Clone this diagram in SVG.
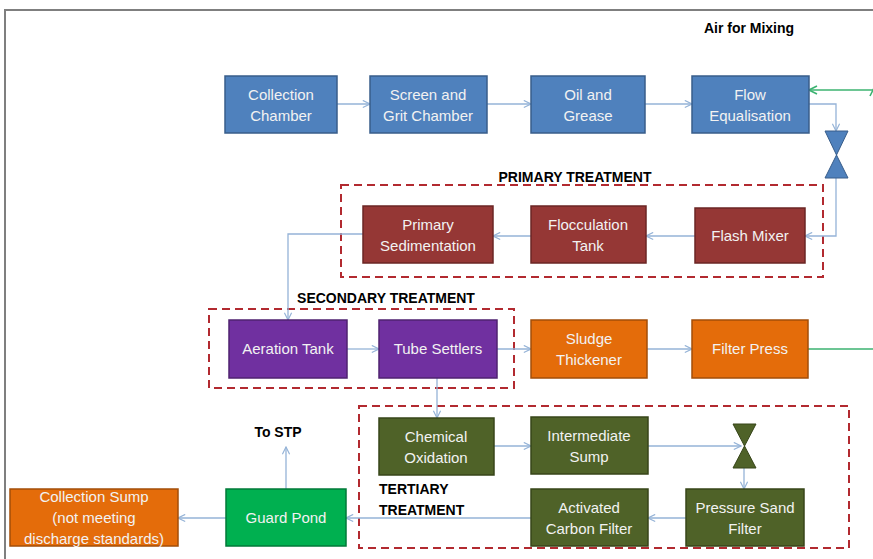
<svg xmlns="http://www.w3.org/2000/svg" width="873" height="559" viewBox="0 0 873 559">
<defs>
<style>
.n{stroke-width:1.5}
.blue{fill:#4F81BD;stroke:#385D8A}
.red{fill:#953735;stroke:#6B2624}
.pur{fill:#7030A0;stroke:#4F2270}
.org{fill:#E46C0A;stroke:#A34E08}
.olv{fill:#4F6228;stroke:#374519}
.grn{fill:#00B050;stroke:#007A38}
.t{font-family:"Liberation Sans",Arial,sans-serif;font-size:15px;fill:#F2F2F2;text-anchor:middle}
.lb{font-family:"Liberation Sans",Arial,sans-serif;font-size:14px;font-weight:bold;fill:#000}
.dash{fill:none;stroke:#B22A30;stroke-width:2;stroke-dasharray:8,5}
.c{fill:none;stroke:#95B3D7;stroke-width:1.3}
.g{fill:none;stroke:#3CB371;stroke-width:1.6}
</style>
<marker id="a" viewBox="0 0 10 10" refX="9" refY="5" markerWidth="9" markerHeight="9" markerUnits="userSpaceOnUse" orient="auto">
<path d="M1,1 L9,5 L1,9" fill="none" stroke="#95B3D7" stroke-width="1.3"/>
</marker>
<marker id="ag" viewBox="0 0 10 10" refX="9" refY="5" markerWidth="10" markerHeight="10" markerUnits="userSpaceOnUse" orient="auto">
<path d="M1,1 L9,5 L1,9" fill="none" stroke="#3CB371" stroke-width="1.6"/>
</marker>
</defs>
<rect width="873" height="559" fill="#fff"/>
<path d="M5,559 V10 H873" fill="none" stroke="#7F7F7F" stroke-width="2"/>

<g id="labels">
<text class="lb" x="749" y="33" text-anchor="middle">Air for Mixing</text>
<text class="lb" x="575" y="182" text-anchor="middle">PRIMARY TREATMENT</text>
<text class="lb" x="386" y="303" text-anchor="middle">SECONDARY TREATMENT</text>
<text class="lb" x="379" y="494">TERTIARY</text>
<text class="lb" x="379" y="515">TREATMENT</text>
<text class="lb" x="278" y="437" text-anchor="middle">To STP</text>
</g>

<g id="groups">
<rect id="primary-box" class="dash" x="341" y="185" width="482" height="92"/>
<rect id="secondary-box" class="dash" x="209" y="309" width="305" height="79"/>
<rect id="tertiary-box" class="dash" x="359" y="406" width="490" height="142"/>
</g>

<g id="connectors">
<path class="c" d="M337,104 H370" marker-end="url(#a)"/>
<path class="c" d="M487,104 H531" marker-end="url(#a)"/>
<path class="c" d="M645,104 H692" marker-end="url(#a)"/>
<path class="c" d="M809,104 H836 V131" marker-end="url(#a)"/>
<path class="c" d="M836,178 V236 H805" marker-end="url(#a)"/>
<path class="c" d="M695,236 H646" marker-end="url(#a)"/>
<path class="c" d="M531,236 H493" marker-end="url(#a)"/>
<path class="c" d="M363,234 H288 V320" marker-end="url(#a)"/>
<path class="c" d="M347,349 H379" marker-end="url(#a)"/>
<path class="c" d="M497,349 H531" marker-end="url(#a)"/>
<path class="c" d="M647,349 H692" marker-end="url(#a)"/>
<path class="c" d="M437,378 V418" marker-end="url(#a)"/>
<path class="c" d="M494,446 H531" marker-end="url(#a)"/>
<path class="c" d="M648,446 H741" marker-end="url(#a)"/>
<path class="c" d="M744,468 V489" marker-end="url(#a)"/>
<path class="c" d="M686,518 H648" marker-end="url(#a)"/>
<path class="c" d="M531,518 H346" marker-end="url(#a)"/>
<path class="c" d="M286,489 V447" marker-end="url(#a)"/>
<path class="c" d="M226,518 H178" marker-end="url(#a)"/>
<path class="g" d="M808,349 H874 V88" marker-end="url(#ag)"/>
<path class="g" d="M874,90 H809" marker-end="url(#ag)"/>
</g>

<g id="collection-chamber"><rect class="n blue" x="225" y="76" width="112" height="57"/><text class="t" x="281" y="100">Collection</text><text class="t" x="281" y="121">Chamber</text></g>
<g id="screen-grit"><rect class="n blue" x="370" y="76" width="117" height="57"/><text class="t" x="428" y="100">Screen and</text><text class="t" x="428" y="121">Grit Chamber</text></g>
<g id="oil-grease"><rect class="n blue" x="531" y="76" width="114" height="57"/><text class="t" x="588" y="100">Oil and</text><text class="t" x="588" y="121">Grease</text></g>
<g id="flow-equalisation"><rect class="n blue" x="692" y="76" width="117" height="57"/><text class="t" x="750" y="100">Flow</text><text class="t" x="750" y="121">Equalisation</text></g>
<g id="valve-1"><path d="M825,131 H848 L836.5,155 Z M825,178 H848 L836.5,155 Z" fill="#4F81BD" stroke="#385D8A" stroke-width="1"/></g>

<g id="primary-sedimentation"><rect class="n red" x="363" y="206" width="130" height="57"/><text class="t" x="428" y="230">Primary</text><text class="t" x="428" y="251">Sedimentation</text></g>
<g id="flocculation-tank"><rect class="n red" x="531" y="206" width="115" height="57"/><text class="t" x="588" y="230">Flocculation</text><text class="t" x="588" y="251">Tank</text></g>
<g id="flash-mixer"><rect class="n red" x="695" y="208" width="110" height="55"/><text class="t" x="750" y="241">Flash Mixer</text></g>

<g id="aeration-tank"><rect class="n pur" x="229" y="320" width="118" height="58"/><text class="t" x="288" y="354">Aeration Tank</text></g>
<g id="tube-settlers"><rect class="n pur" x="379" y="320" width="118" height="58"/><text class="t" x="438" y="354">Tube Settlers</text></g>
<g id="sludge-thickener"><rect class="n org" x="531" y="320" width="116" height="58"/><text class="t" x="589" y="344">Sludge</text><text class="t" x="589" y="365">Thickener</text></g>
<g id="filter-press"><rect class="n org" x="692" y="320" width="116" height="58"/><text class="t" x="750" y="354">Filter Press</text></g>

<g id="chemical-oxidation"><rect class="n olv" x="379" y="418" width="115" height="57"/><text class="t" x="436" y="442">Chemical</text><text class="t" x="436" y="463">Oxidation</text></g>
<g id="intermediate-sump"><rect class="n olv" x="531" y="417" width="117" height="57"/><text class="t" x="589" y="441">Intermediate</text><text class="t" x="589" y="462">Sump</text></g>
<g id="valve-2"><path d="M733,424 H756 L744.5,446 Z M733,468 H756 L744.5,446 Z" fill="#4F6228" stroke="#374519" stroke-width="1"/></g>
<g id="pressure-sand-filter"><rect class="n olv" x="686" y="489" width="118" height="57"/><text class="t" x="745" y="513">Pressure Sand</text><text class="t" x="745" y="534">Filter</text></g>
<g id="activated-carbon-filter"><rect class="n olv" x="531" y="489" width="117" height="57"/><text class="t" x="589" y="513">Activated</text><text class="t" x="589" y="534">Carbon Filter</text></g>

<g id="guard-pond"><rect class="n grn" x="226" y="489" width="120" height="57"/><text class="t" x="286" y="523">Guard Pond</text></g>
<g id="collection-sump"><rect class="n org" x="10" y="489" width="168" height="57"/><text class="t" x="94" y="502">Collection Sump</text><text class="t" x="94" y="523">(not meeting</text><text class="t" x="94" y="544">discharge standards)</text></g>
</svg>
